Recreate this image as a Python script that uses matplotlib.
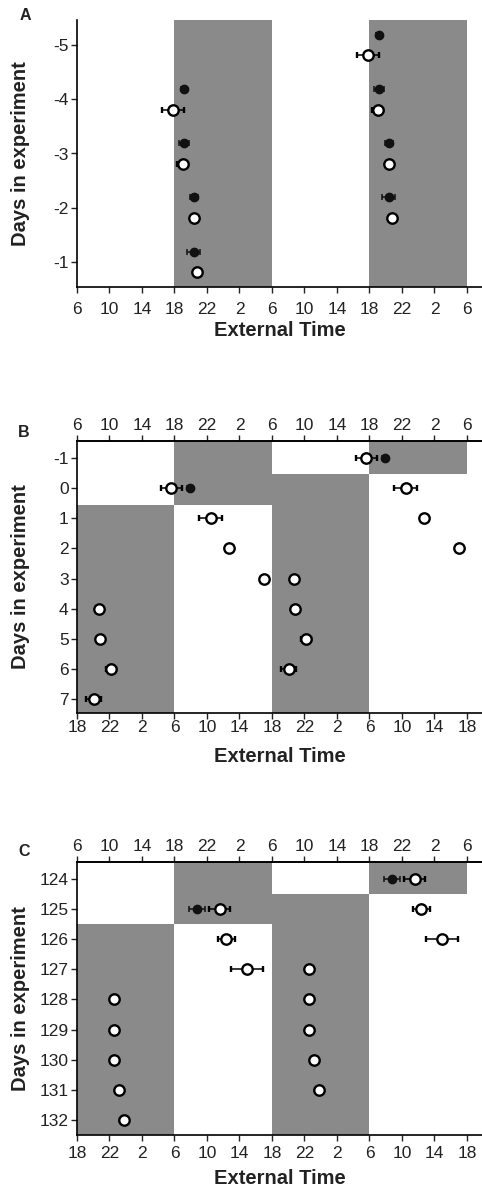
import matplotlib.pyplot as plt
import numpy as np

plt.rcParams['font.family'] = ['Liberation Sans', 'DejaVu Sans']
plt.rcParams['text.color'] = '#222222'
plt.rcParams['axes.labelcolor'] = '#222222'
plt.rcParams['xtick.color'] = '#222222'
plt.rcParams['ytick.color'] = '#222222'

# double-plotted time axis, 48 h from 06:00
tick_pos = np.arange(0, 49, 4)
clock_top = ['6', '10', '14', '18', '22', '2', '6', '10', '14', '18', '22', '2', '6']
clock_bottom = ['18', '22', '2', '6', '10', '14', '18', '22', '2', '6', '10', '14', '18']

# onsets in clock hours (top-axis time)
# A: baseline
days_a = [-4, -3, -2, -1]
open_a = [17.85, 19.0, 20.4, 20.8]
open_a_err = [1.35, 0.7, 0.2, 0.2]
filled_a = [19.15, 19.2, 20.45, 20.35]
filled_a_err = [0.4, 0.6, 0.5, 0.8]

# B: 12 h shift after day 0
days_b = [0, 1, 2, 3, 4, 5, 6, 7]
open_b = [17.6, 22.45, 0.65, 5.05, 8.7, 8.85, 10.2, 8.05]
open_b_err = [1.3, 1.45, 0.2, 0.3, 0.3, 0.35, 0.6, 0.9]
filled_days_b = [0]
filled_b = [19.9]
filled_b_err = [0.4]

# C: 12 h shift on day 125
days_c = [125, 126, 127, 128, 129, 130, 131, 132]
open_c = [23.55, 0.4, 2.9, 10.6, 10.5, 10.55, 11.2, 11.75]
open_c_err = [1.3, 1.1, 2.0, 0.3, 0.35, 0.3, 0.45, 0.5]
filled_days_c = [125]
filled_c = [20.8]
filled_c_err = [1.0]

DARK = '#8a8a8a'
open_style = dict(fmt='o', ms=7.5, mfc='white', mec='black', mew=1.7,
                  ecolor='black', elinewidth=1.1, capsize=2.5, capthick=1.1, zorder=4)
filled_style = dict(fmt='o', ms=6, mfc='#111111', mec='#111111',
                    ecolor='#111111', elinewidth=1.1, capsize=2.5, capthick=1.1, zorder=3)


def plot_days(ax, days, clock, err, dy, style):
    t = (np.array(clock) - 6) % 24
    d = np.array(days, dtype=float)
    ax.errorbar(t, d + dy, xerr=err, **style)
    ax.errorbar(t + 24, d - 1 + dy, xerr=err, **style)


def shade(ax, t0, t1, y0, y1):
    ax.fill_between([t0, t1], y0, y1, color=DARK, lw=0, zorder=0)


def setup(ax, yticks, ylim, top_axis, h_px, xpad):
    ax.set_xlim(0, 49.85)
    ax.set_ylim(*ylim)
    ax.set_yticks(yticks)
    ax.set_yticklabels([str(v) for v in yticks])
    ax.set_xticks(tick_pos)
    ax.spines['right'].set_visible(False)
    for s in ['left', 'bottom', 'top']:
        ax.spines[s].set_linewidth(1.2)
    ax.tick_params(labelsize=12.5, length=4, width=1, pad=2)
    ax.tick_params(axis='x', pad=xpad)
    ax.set_ylabel('Days in experiment', fontsize=14.5, fontweight='bold')
    ax.yaxis.set_label_coords(-0.115, 0.5)
    ax.set_xlabel('External Time', fontsize=14.5, fontweight='bold')
    ax.xaxis.set_label_coords(0.5, -34 / h_px)
    if top_axis:
        ax.set_xticklabels(clock_bottom)
        sec = ax.secondary_xaxis('top')
        sec.set_xticks(tick_pos)
        sec.set_xticklabels(clock_top)
        sec.tick_params(labelsize=12.5, length=4, width=1, pad=2)
        sec.spines['top'].set_linewidth(1.2)
    else:
        ax.set_xticklabels(clock_top)
        ax.spines['top'].set_visible(False)


fig = plt.figure(figsize=(4.82, 11.88), dpi=100)

# ---- A ----
axA = fig.add_axes([77 / 482, 1 - 287 / 1188, 405 / 482, 267 / 1188])
ylimA = (-0.54, -5.46)
shade(axA, 12, 24, ylimA[0], ylimA[1])
shade(axA, 36, 48, ylimA[0], ylimA[1])
plot_days(axA, days_a, filled_a, filled_a_err, -0.19, filled_style)
plot_days(axA, days_a, open_a, open_a_err, 0.19, open_style)
setup(axA, [-5, -4, -3, -2, -1], ylimA, False, 267, 7)
fig.text(20 / 482, 1 - 15 / 1188, 'A', fontsize=11.5, fontweight='bold', va='center')

# ---- B ----
axB = fig.add_axes([77 / 482, 1 - 713 / 1188, 405 / 482, 272 / 1188])
ylimB = (7.46, -1.56)
shift_b = 0.55
shade(axB, 12, 24, ylimB[1], shift_b)
shade(axB, 0, 12, shift_b, ylimB[0])
shade(axB, 36, 48, ylimB[1], shift_b - 1)
shade(axB, 24, 36, shift_b - 1, ylimB[0])
plot_days(axB, filled_days_b, filled_b, filled_b_err, 0, filled_style)
plot_days(axB, days_b, open_b, open_b_err, 0, open_style)
setup(axB, list(range(-1, 8)), ylimB, True, 272, 1)
fig.text(18 / 482, 1 - 433 / 1188, 'B', fontsize=11.5, fontweight='bold', va='center')

# ---- C ----
axC = fig.add_axes([77 / 482, 1 - 1135 / 1188, 405 / 482, 273 / 1188])
ylimC = (132.5, 123.44)
shift_c = 125.5
shade(axC, 12, 24, ylimC[1], shift_c)
shade(axC, 0, 12, shift_c, ylimC[0])
shade(axC, 36, 48, ylimC[1], shift_c - 1)
shade(axC, 24, 36, shift_c - 1, ylimC[0])
plot_days(axC, filled_days_c, filled_c, filled_c_err, 0, filled_style)
plot_days(axC, days_c, open_c, open_c_err, 0, open_style)
setup(axC, list(range(124, 133)), ylimC, True, 273, 4)
fig.text(18 / 482, 1 - 852 / 1188, 'C', fontsize=11.5, fontweight='bold', va='center')

fig.savefig('out.png', dpi=100)
